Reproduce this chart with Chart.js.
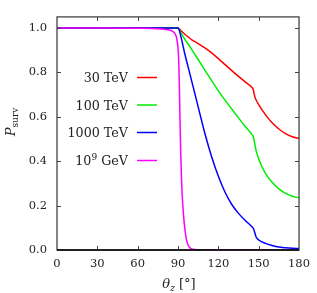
<!DOCTYPE html>
<html lang="en">
<head>
  <meta charset="UTF-8" />
  <title>Survival probability vs zenith angle</title>
  <script src="https://cdn.jsdelivr.net/npm/chart.js"></script>
  <style>
    html, body { margin: 0; padding: 0; background: #ffffff; }
    #chart-container { position: relative; width: 317px; height: 293px; }
  </style>
</head>
<body>
  <div id="chart-container">
    <canvas id="survChart"></canvas>
  </div>

  <script>
    // zenith angles (deg) shared by the three TeV curves
    const angles = [0, 30, 60, 85, 88, 90, 91, 92, 93, 95, 97.5, 100, 105, 110, 115, 120, 125, 130,
                    135, 140, 145, 146, 147, 148, 150, 155, 160, 165, 170, 175, 180];
    const p30TeV = [1, 1, 1, 1, 1, 1.0, 0.995, 0.989, 0.983, 0.972, 0.96, 0.948, 0.93, 0.91, 0.888, 0.862,
                    0.835, 0.808, 0.782, 0.757, 0.732, 0.722, 0.693, 0.677, 0.655, 0.61, 0.573, 0.545, 0.524, 0.51, 0.502];
    const p100TeV = [1, 1, 1, 1, 1, 1.0, 0.99, 0.98, 0.97, 0.95, 0.928, 0.905, 0.858, 0.81, 0.763, 0.717,
                     0.675, 0.635, 0.595, 0.556, 0.52, 0.51, 0.48, 0.45, 0.41, 0.345, 0.305, 0.275, 0.255, 0.242, 0.235];
    const p1000TeV = [1, 1, 1, 1, 1, 1.0, 0.99, 0.965, 0.94, 0.885, 0.825, 0.765, 0.645, 0.525, 0.42, 0.332,
                      0.26, 0.205, 0.165, 0.133, 0.105, 0.098, 0.08, 0.06, 0.045, 0.03, 0.02, 0.013, 0.01, 0.008, 0.007];
    // the 10^9 GeV curve is sampled more finely near the horizon
    const anglesEHE = [0, 30, 60, 75, 80, 84, 86, 88, 89, 90, 90.5, 91, 91.5, 92, 92.5, 93, 94, 95, 96, 97, 98, 100, 105, 180];
    const pEHE = [1.0, 1.0, 0.999, 0.997, 0.994, 0.99, 0.985, 0.972, 0.955, 0.91, 0.86, 0.74, 0.58, 0.44, 0.34,
                  0.26, 0.165, 0.10, 0.055, 0.03, 0.016, 0.005, 0.001, 0];

    const xTicks = [0, 30, 60, 90, 120, 150, 180];
    const yTicks = [0, 0.2, 0.4, 0.6, 0.8, 1.0];

    const seriesNames = ['30 TeV', '100 TeV', '1000 TeV', '10^9 GeV'];
    const seriesColors = ['#ff0000', '#00ee00', '#0000ff', '#ff00ff'];

    const toPoints = (xs, ys) => xs.map((x, i) => ({ x: x, y: ys[i] }));

    const serif = '"DejaVu Serif", serif';
    const textColor = '#222222';

    // frame with inward ticks on all four sides
    Chart.register({
      id: 'frameTicks',
      afterDraw(chart) {
        const ctx = chart.ctx;
        const a = chart.chartArea;
        const xs = chart.scales.x, ys = chart.scales.y;
        const len = 4;
        ctx.save();
        ctx.strokeStyle = '#444444';
        ctx.lineWidth = 1;
        ctx.beginPath();
        xTicks.forEach(v => {
          const px = Math.round(xs.getPixelForValue(v)) + 0.5;
          if (v === 0 || v === 180) return;
          ctx.moveTo(px, a.bottom); ctx.lineTo(px, a.bottom - len);
          ctx.moveTo(px, a.top); ctx.lineTo(px, a.top + len);
        });
        yTicks.forEach(v => {
          const py = Math.round(ys.getPixelForValue(v)) + 0.5;
          if (v === 0) return;
          ctx.moveTo(a.left, py); ctx.lineTo(a.left + len, py);
          ctx.moveTo(a.right, py); ctx.lineTo(a.right - len, py);
        });
        ctx.stroke();
        ctx.lineWidth = 1.3;
        ctx.strokeRect(a.left, a.top, a.right - a.left, a.bottom - a.top);
        ctx.strokeStyle = '#000000';
        ctx.beginPath();
        ctx.moveTo(a.left, a.bottom); ctx.lineTo(a.right, a.bottom);
        ctx.stroke();
        ctx.restore();
      }
    });

    // axis titles and legend (need sub/superscripts)
    Chart.register({
      id: 'labels',
      afterDraw(chart) {
        const ctx = chart.ctx;
        ctx.save();
        ctx.fillStyle = textColor;
        ctx.textBaseline = 'alphabetic';

        // x title: theta_z [deg]
        const big = 'italic 13px ' + serif, small = 'italic 9px ' + serif, norm = '13px ' + serif;
        ctx.font = big; const w1 = ctx.measureText('θ').width;
        ctx.font = small; const w2 = ctx.measureText('z').width;
        ctx.font = norm; const w3 = ctx.measureText(' [°]').width;
        let x = 179 - (w1 + w2 + w3) / 2;
        const base = 288;
        ctx.font = big; ctx.textAlign = 'left'; ctx.fillText('θ', x, base); x += w1;
        ctx.font = small; ctx.fillText('z', x, base + 3); x += w2;
        ctx.font = norm; ctx.fillText(' [°]', x, base);

        // y title: P_surv rotated
        ctx.save();
        ctx.translate(15, 122);
        ctx.rotate(-Math.PI / 2);
        ctx.font = big; const p1 = ctx.measureText('P').width;
        ctx.font = '9px ' + serif; const p2 = ctx.measureText('surv').width;
        let yx = -(p1 + p2) / 2;
        ctx.font = big; ctx.fillText('P', yx, 0); yx += p1;
        ctx.font = '9px ' + serif; ctx.fillText('surv', yx, 3);
        ctx.restore();

        // legend
        const rows = [77.5, 105, 132.5, 160.5];
        const textRight = 128;
        const legFont = '12.7px ' + serif;
        rows.forEach((ry, i) => {
          ctx.strokeStyle = seriesColors[i];
          ctx.lineWidth = 1.5;
          ctx.beginPath();
          ctx.moveTo(137, ry); ctx.lineTo(157, ry);
          ctx.stroke();
          ctx.fillStyle = textColor;
          const tb = ry + 4.5;
          if (seriesNames[i].indexOf('^') >= 0) {
            ctx.font = legFont; const a1 = ctx.measureText('10').width;
            ctx.font = '9px ' + serif; const a2 = ctx.measureText('9').width;
            ctx.font = legFont; const a3 = ctx.measureText(' GeV').width;
            let lx = textRight - (a1 + a2 + a3);
            ctx.textAlign = 'left';
            ctx.font = legFont; ctx.fillText('10', lx, tb); lx += a1;
            ctx.font = '9px ' + serif; ctx.fillText('9', lx, tb - 5); lx += a2;
            ctx.font = legFont; ctx.fillText(' GeV', lx, tb);
          } else {
            ctx.font = legFont; ctx.textAlign = 'right';
            ctx.fillText(seriesNames[i], textRight, tb);
          }
        });
        ctx.restore();
      }
    });

    const datasets = [
      { label: seriesNames[0], data: toPoints(angles, p30TeV), order: 3 },
      { label: seriesNames[1], data: toPoints(angles, p100TeV), order: 2 },
      { label: seriesNames[2], data: toPoints(angles, p1000TeV), order: 1 },
      { label: seriesNames[3], data: toPoints(anglesEHE, pEHE), order: 0 }
    ].map((d, i) => Object.assign(d, {
      borderColor: seriesColors[i],
      borderWidth: 1.5,
      pointRadius: 0,
      fill: false,
      cubicInterpolationMode: 'monotone'
    }));

    new Chart(document.getElementById('survChart').getContext('2d'), {
      type: 'line',
      data: { datasets: datasets },
      options: {
        responsive: true,
        maintainAspectRatio: false,
        animation: false,
        layout: { padding: { top: 5, right: 14, left: 0, bottom: 0 } },
        plugins: { legend: { display: false }, tooltip: { enabled: false } },
        scales: {
          x: {
            type: 'linear',
            min: 0, max: 180,
            afterBuildTicks: s => { s.ticks = xTicks.map(v => ({ value: v })); },
            afterFit: s => { s.height = 43; },
            grid: { display: false, drawTicks: false },
            border: { display: false },
            ticks: { color: textColor, padding: 7, maxRotation: 0, font: { family: serif, size: 11.5 } }
          },
          y: {
            min: 0, max: 1.05,
            afterBuildTicks: s => { s.ticks = yTicks.map(v => ({ value: v })); },
            afterFit: s => { s.width = 57; },
            grid: { display: false, drawTicks: false },
            border: { display: false },
            ticks: {
              color: textColor, padding: 10, font: { family: serif, size: 11.5 },
              callback: v => v.toFixed(1)
            }
          }
        }
      }
    });
  </script>
</body>
</html>
